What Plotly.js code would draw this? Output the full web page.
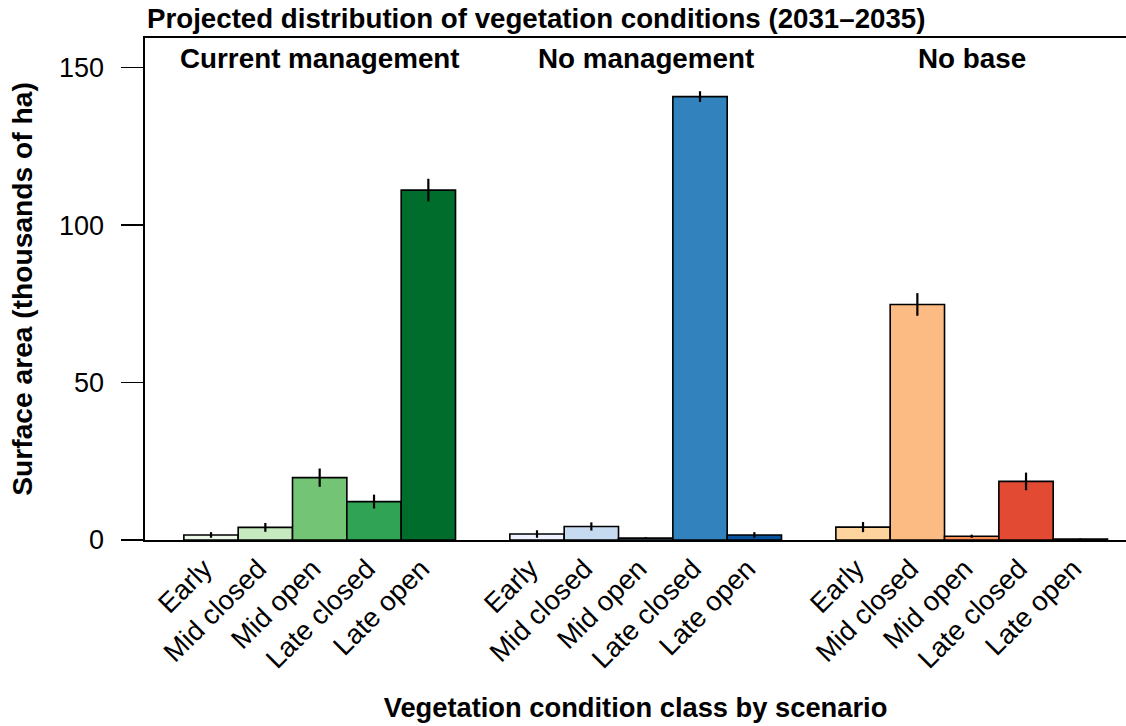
<!DOCTYPE html>
<html>
<head>
<meta charset="utf-8">
<script src="https://cdn.plot.ly/plotly-3.0.1.min.js"></script>
<style>
  html, body { margin: 0; padding: 0; background: #fff; }
  #chart { width: 1126px; height: 726px; }
</style>
</head>
<body>
<div id="chart"></div>
<script>
// ---- data ----
const classes = ['Early', 'Mid closed', 'Mid open', 'Late closed', 'Late open'];
const scenarios = ['Current management', 'No management', 'No base'];

const currentManagement    = [1.6, 4.0, 19.8, 12.2, 111.1];
const currentManagementErr = [0.9, 1.4, 2.9, 2.2, 3.6];
const noManagement         = [1.9, 4.3, 0.6, 140.8, 1.6];
const noManagementErr      = [1.2, 1.3, 0.3, 1.7, 0.9];
const noBase               = [4.1, 74.8, 1.2, 18.6, 0.3];
const noBaseErr            = [1.6, 3.6, 0.5, 2.8, 0.2];

const yTickVals = [0, 50, 100, 150];

// ---- styles ----
const palettes = [
  ['#edf8e9', '#c7e9c0', '#74c476', '#31a354', '#006d2c'],
  ['#eff3ff', '#c6dbef', '#6baed6', '#3182bd', '#08519c'],
  ['#fdd49e', '#fdbb84', '#fc8d59', '#e34a33', '#b30000']
];
const values = [currentManagement, noManagement, noBase];
const errors = [currentManagementErr, noManagementErr, noBaseErr];

const groupStride = classes.length + 1;   // one empty slot between scenarios
const FONT = '"Liberation Sans", Arial, Helvetica, sans-serif';

const traces = [];
const tickVals = [];
const tickText = [];
const annotations = [];

scenarios.forEach((name, g) => {
  const xs = classes.map((c, i) => g * groupStride + i);
  xs.forEach((x, i) => { tickVals.push(x); tickText.push(classes[i]); });
  traces.push({
    type: 'bar',
    name: name,
    x: xs,
    y: values[g],
    width: 1,
    marker: { color: palettes[g], line: { color: '#000', width: 1.6 } },
    error_y: { type: 'data', array: errors[g], visible: true, color: '#000', thickness: 2.2, width: 0 },
    hovertemplate: name + '<br>%{text}: %{y}<extra></extra>',
    text: classes,
    textposition: 'none',
    showlegend: false
  });
  annotations.push({
    text: '<b>' + name + '</b>',
    x: g * groupStride + (classes.length - 1) / 2,
    xref: 'x',
    y: 0.960,
    yref: 'paper',
    yanchor: 'middle',
    xanchor: 'center',
    showarrow: false,
    font: { family: FONT, size: 27.8, color: '#000' }
  });
});

const layout = {
  width: 1126,
  height: 726,
  margin: { l: 145, r: 0, t: 38, b: 186 },
  paper_bgcolor: '#fff',
  plot_bgcolor: '#fff',
  font: { family: FONT, color: '#000' },
  title: {
    text: '<b>Projected distribution of vegetation conditions (2031–2035)</b>',
    x: 0, xref: 'paper', xanchor: 'left',
    y: 1 - 18 / 726, yref: 'container', yanchor: 'middle',
    pad: { l: 2 },
    font: { family: FONT, size: 27.7, color: '#000' }
  },
  xaxis: {
    range: [-1.215, 16.84],
    showline: true, mirror: true, linecolor: '#000', linewidth: 1.6,
    showgrid: false, zeroline: false,
    ticks: '',
    tickmode: 'array', tickvals: tickVals, ticktext: tickText,
    tickangle: -45,
    ticklabelshift: -7,
    tickfont: { family: FONT, size: 27.5, color: '#000' },
    title: {
      text: '<b>Vegetation condition class by scenario</b>',
      font: { family: FONT, size: 27.3, color: '#000' },
      standoff: 24
    }
  },
  yaxis: {
    range: [0, 159.4],
    showline: true, linecolor: '#000', linewidth: 1.6,
    showgrid: false, zeroline: false,
    ticks: 'outside', ticklen: 22, tickwidth: 1.6, tickcolor: '#000',
    tickmode: 'array', tickvals: yTickVals,
    ticklabelstandoff: 12,
    tickfont: { family: FONT, size: 27, color: '#000' },
    title: {
      text: '<b>Surface area (thousands of ha)</b>',
      font: { family: FONT, size: 28.2, color: '#000' },
      standoff: 18
    }
  },
  annotations: annotations,
  bargap: 0
};

Plotly.newPlot('chart', traces, layout, { displayModeBar: false, staticPlot: true });
</script>
</body>
</html>
